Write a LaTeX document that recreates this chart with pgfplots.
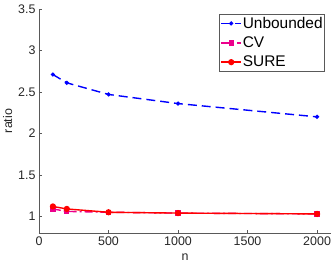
\documentclass[border=0pt]{standalone}
\usepackage{pgfplots}
\pgfplotsset{compat=1.18}
\usepackage{fontspec}
\setmainfont{Liberation Sans}
\begin{document}
\begin{tikzpicture}
\begin{axis}[
  name=ax,
  scale only axis,
  width=292bp, height=224bp,
  xmin=0, xmax=2100, ymin=0.8, ymax=3.5,
  xtick={0,500,1000,1500,2000},
  ytick={1,1.5,2,2.5,3,3.5},
  axis x line*=bottom, axis y line*=left,
  axis line style={draw=gray!70!black, line width=0.5pt},
  tick style={draw=gray!70!black},
  tick align=inside,
  major tick length=3bp,
  every axis plot/.append style={line width=1.4pt},
  /pgf/number format/assume math mode=true,
  /pgf/number format/1000 sep={},
  ticklabel style={font=\fontsize{12.5}{14}\selectfont, text=black!85},
  label style={font=\fontsize{12.5}{14}\selectfont, text=black!85},
  xlabel={n}, ylabel={ratio},
  xlabel style={yshift=-2bp},
  ylabel style={yshift=-1bp},
  scaled x ticks=false,
  legend style={at={(0.979,0.978)}, anchor=north east, draw=gray!70!black,
    font=\fontsize{15.5}{17}\selectfont, inner xsep=1pt, inner ysep=1pt, row sep=3pt,
    nodes={inner xsep=1pt},
    legend cell align=left},
  legend image code/.code={\draw[#1] (0cm,0cm) -- (0.7cm,0cm);
    \draw[#1, only marks] plot coordinates {(0.35cm,0cm)};},
]
\addplot[blue, dash pattern=on 9pt off 5pt, mark=*, mark size=1.3pt, mark options={solid}] coordinates {
(100,2.71) (200,2.61) (500,2.47) (1000,2.36) (2000,2.20)};
\addlegendentry{Unbounded}
\addplot[magenta, dash pattern=on 8pt off 3pt on 2pt off 3pt, mark=square*, mark size=2pt, mark options={solid, fill=magenta}] coordinates {
(100,1.09) (200,1.06) (500,1.05) (1000,1.04) (2000,1.03)};
\addlegendentry{CV}
\addplot[red, solid, mark=*, mark size=2.4pt, mark options={fill=red}] coordinates {
(100,1.12) (200,1.09) (500,1.05) (1000,1.04) (2000,1.03)};
\addlegendentry{SURE}
\end{axis}
\pgfresetboundingbox
\path[use as bounding box] ([shift={(-39bp,-37bp)}]ax.south west) rectangle ([shift={(1bp,9bp)}]ax.north east);
\end{tikzpicture}
\end{document}
